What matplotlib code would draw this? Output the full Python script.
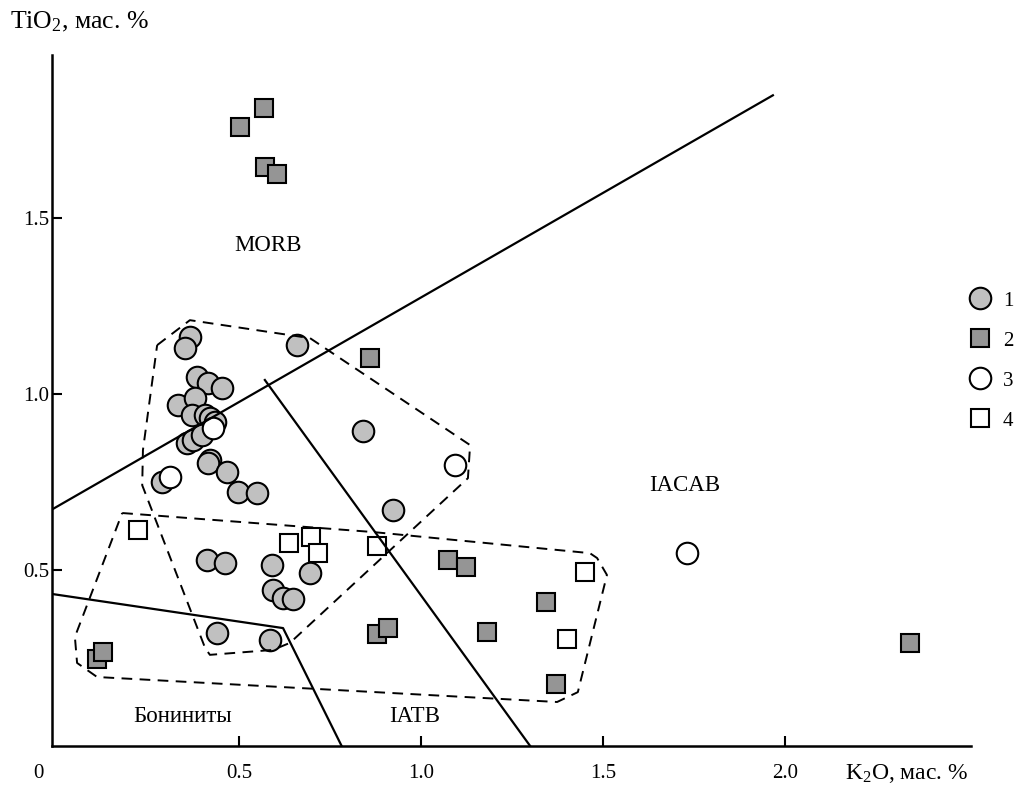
"""
TiO2 vs K2O discrimination diagram (MORB / IACAB / IATB / boninites).
"""

import matplotlib
matplotlib.use("Agg")
import matplotlib.pyplot as plt
from matplotlib.lines import Line2D

plt.rcParams["font.family"] = ["Liberation Serif", "DejaVu Serif"]
plt.rcParams["mathtext.fontset"] = "custom"
plt.rcParams["mathtext.rm"] = "Liberation Serif"
plt.rcParams["mathtext.it"] = "Liberation Serif:italic"

GRAY_LIGHT = "#c0c0c0"
GRAY_DARK = "#959595"
INK = "black"

# ---- data (K2O, TiO2 wt%) ----
g1_k2o = [0.365, 0.352, 0.659, 0.385, 0.415, 0.453, 0.332, 0.379, 0.371, 0.407,
          0.420, 0.434, 0.357, 0.374, 0.398, 0.420, 0.415, 0.467, 0.497, 0.549,
          0.288, 0.841, 0.923, 0.412, 0.462, 0.591, 0.695, 0.593, 0.621, 0.648,
          0.440, 0.585]
g1_tio2 = [1.162, 1.131, 1.139, 1.048, 1.031, 1.017, 0.969, 0.989, 0.940, 0.940,
           0.932, 0.920, 0.861, 0.869, 0.884, 0.813, 0.804, 0.778, 0.722, 0.719,
           0.750, 0.895, 0.670, 0.528, 0.520, 0.514, 0.491, 0.443, 0.420, 0.418,
           0.321, 0.301]

g2_k2o = [0.569, 0.503, 0.571, 0.604, 0.860, 1.074, 1.124, 1.343, 1.181, 0.879,
          0.909, 1.371, 0.110, 0.126, 2.343]
g2_tio2 = [1.813, 1.759, 1.645, 1.625, 1.102, 0.528, 0.509, 0.409, 0.324, 0.318,
           0.335, 0.176, 0.247, 0.267, 0.293]

g3_k2o = [0.429, 0.310, 1.093, 1.731]
g3_tio2 = [0.903, 0.764, 0.798, 0.548]

g4_k2o = [0.223, 0.637, 0.698, 0.717, 0.879, 1.451, 1.401]
g4_tio2 = [0.614, 0.577, 0.594, 0.548, 0.568, 0.494, 0.304]

# boundary lines
morb_x, morb_y = [-0.014, 1.967], [0.672, 1.849]
iatb_x, iatb_y = [0.571, 1.30], [1.040, 0.0]
bon_x, bon_y = [-0.014, 0.621, 0.782], [0.432, 0.335, 0.0]

# dashed fields
field_a_x = [0.275, 0.365, 0.695, 1.135, 1.129, 0.640, 0.593, 0.420, 0.407,
             0.255, 0.234, 0.236, 0.275]
field_a_y = [1.139, 1.210, 1.159, 0.855, 0.761, 0.293, 0.273, 0.259, 0.278,
             0.685, 0.741, 0.841, 1.139]
field_b_x = [0.179, 0.868, 1.464, 1.484, 1.511, 1.431, 1.374, 0.110, 0.055,
             0.049, 0.179]
field_b_y = [0.662, 0.608, 0.548, 0.534, 0.486, 0.153, 0.125, 0.196, 0.236,
             0.310, 0.662]

x_ticks = [0.5, 1.0, 1.5, 2.0]
y_ticks = [0.5, 1.0, 1.5]

fig = plt.figure(figsize=(10.29, 7.85), dpi=100)
ax = fig.add_axes([0.0505, 0.0497, 0.893, 0.880])
ax.set_xlim(-0.014, 2.511)
ax.set_ylim(0, 1.963)

for s in ["top", "right"]:
    ax.spines[s].set_visible(False)
for s in ["left", "bottom"]:
    ax.spines[s].set_linewidth(1.8)

ax.set_xticks(x_ticks)
ax.set_xticklabels([f"{v:.1f}" for v in x_ticks])
ax.set_yticks(y_ticks)
ax.set_yticklabels([f"{v:.1f}" for v in y_ticks])
ax.tick_params(direction="in", length=7, width=1.5, labelsize=15)
ax.tick_params(axis="x", pad=13)
ax.tick_params(axis="y", pad=2)

fig.text(0.037, 0.015, "0", fontsize=15, ha="center", va="center")

# fields and boundaries (drawn over the markers)
line_kw = dict(color=INK, lw=1.6, zorder=4)
ax.plot(morb_x, morb_y, **line_kw)
ax.plot(iatb_x, iatb_y, **line_kw)
ax.plot(bon_x, bon_y, **line_kw)
dash_kw = dict(color=INK, lw=1.4, ls=(0, (5.5, 3.8)), zorder=4)
ax.plot(field_a_x, field_a_y, **dash_kw)
ax.plot(field_b_x, field_b_y, **dash_kw)

mk = dict(ls="none", mec=INK, mew=1.5, zorder=3)
ax.plot(g1_k2o, g1_tio2, marker="o", ms=15.5, mfc=GRAY_LIGHT, **mk)
ax.plot(g2_k2o, g2_tio2, marker="s", ms=12.5, mfc=GRAY_DARK, **mk)
ax.plot(g3_k2o, g3_tio2, marker="o", ms=15.5, mfc="white", **mk)
ax.plot(g4_k2o, g4_tio2, marker="s", ms=12.5, mfc="white", **mk)

label_kw = dict(fontsize=16.5, ha="center", va="center")
ax.text(0.58, 1.423, "MORB", **label_kw)
ax.text(1.725, 0.741, "IACAB", **label_kw)
ax.text(0.346, 0.085, "Бониниты", **label_kw)
ax.text(0.983, 0.085, "IATB", **label_kw)

fig.text(0.010, 0.972, r"TiO$_2$, мас. $\mathit{\%}$", fontsize=18.5,
         ha="left", va="center")
fig.text(0.821, 0.015, r"K$_2$O, мас. $\mathit{\%}$", fontsize=17,
         ha="left", va="center")

handles = [
    Line2D([], [], marker="o", ms=15.5, mfc=GRAY_LIGHT, **mk),
    Line2D([], [], marker="s", ms=12.5, mfc=GRAY_DARK, **mk),
    Line2D([], [], marker="o", ms=15.5, mfc="white", **mk),
    Line2D([], [], marker="s", ms=12.5, mfc="white", **mk),
]
fig.legend(handles, ["1", "2", "3", "4"], loc="upper left",
           bbox_to_anchor=(0.924, 0.653), frameon=False, fontsize=15,
           handlelength=1.0, handletextpad=0.6, labelspacing=0.98)

fig.savefig("out.png", dpi=100, facecolor="white")
